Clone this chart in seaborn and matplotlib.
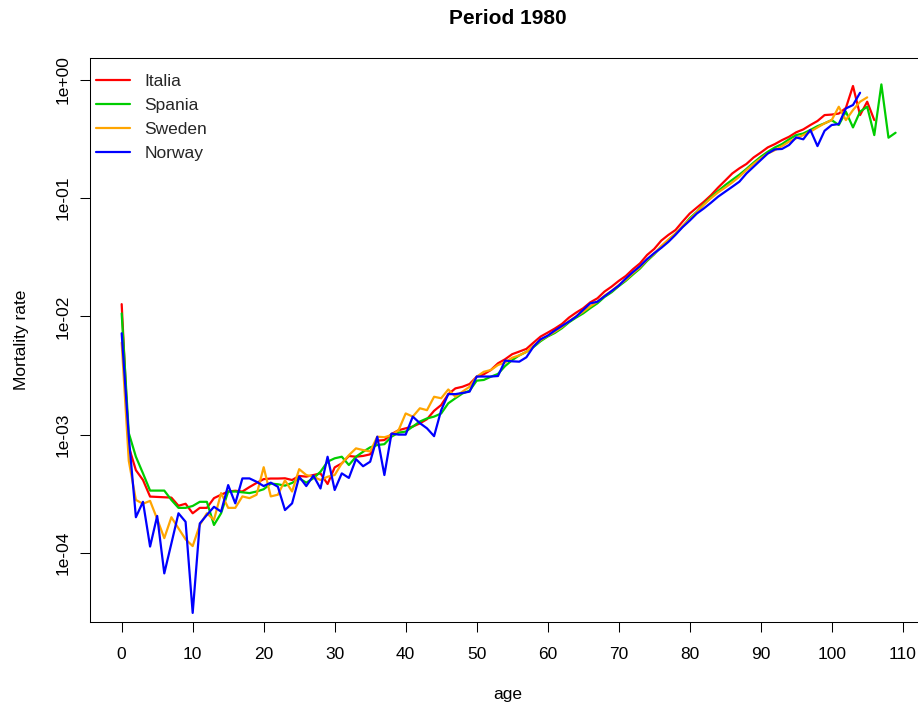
import numpy as np
import pandas as pd
import matplotlib
matplotlib.use("Agg")
import matplotlib.pyplot as plt
from matplotlib.lines import Line2D
from matplotlib.ticker import NullLocator
import seaborn as sns

# Period mortality rates by single year of age, 1980
countries = ["Italia", "Spania", "Sweden", "Norway"]
colors = ["#FF0000", "#00CD00", "#FFA500", "#0000FF"]

italia = [
    0.0127, 7.9e-4, 5.0e-4, 4.13e-4, 2.99e-4, 2.97e-4, 2.95e-4, 2.93e-4, 2.5e-4, 2.6e-4,
    2.16e-4, 2.4e-4, 2.4e-4, 2.9e-4, 3.1e-4, 3.3e-4, 3.35e-4, 3.3e-4, 3.6e-4, 3.9e-4,
    4.2e-4, 4.25e-4, 4.25e-4, 4.27e-4, 4.13e-4, 4.47e-4, 4.41e-4, 4.55e-4, 4.70e-4, 3.82e-4,
    5.28e-4, 5.71e-4, 6.59e-4, 6.50e-4, 6.6e-4, 6.81e-4, 8.89e-4, 8.99e-4, 1.01e-3, 1.09e-3,
    1.13e-3, 1.17e-3, 1.245e-3, 1.35e-3, 1.59e-3, 1.78e-3, 2.20e-3, 2.46e-3, 2.54e-3, 2.68e-3,
    3.09e-3, 3.24e-3, 3.52e-3, 4.01e-3, 4.34e-3, 4.79e-3, 5.04e-3, 5.31e-3, 6.0e-3, 6.75e-3,
    7.29e-3, 7.89e-3, 8.63e-3, 9.77e-3, 1.076e-2, 1.172e-2, 1.315e-2, 1.422e-2, 1.622e-2, 1.786e-2,
    1.995e-2, 2.198e-2, 2.506e-2, 2.81e-2, 3.31e-2, 3.72e-2, 4.38e-2, 4.89e-2, 5.38e-2, 6.34e-2,
    7.41e-2, 8.32e-2, 9.33e-2, 0.106, 0.123, 0.141, 0.162, 0.179, 0.195, 0.221,
    0.243, 0.269, 0.287, 0.310, 0.331, 0.361, 0.382, 0.416, 0.450, 0.505,
    0.51, 0.52, 0.58, 0.89, 0.505, 0.655, 0.458,
]

spania = [
    0.0106, 1.03e-3, 6.5e-4, 4.7e-4, 3.36e-4, 3.36e-4, 3.36e-4, 2.8e-4, 2.4e-4, 2.4e-4,
    2.49e-4, 2.7e-4, 2.7e-4, 1.72e-4, 2.16e-4, 3.3e-4, 3.3e-4, 3.25e-4, 3.2e-4, 3.3e-4,
    3.45e-4, 3.85e-4, 3.8e-4, 3.7e-4, 3.9e-4, 4.27e-4, 3.92e-4, 4.27e-4, 4.85e-4, 5.9e-4,
    6.3e-4, 6.5e-4, 5.53e-4, 6.5e-4, 7.16e-4, 7.8e-4, 8.16e-4, 8.3e-4, 9.6e-4, 1.04e-3,
    1.06e-3, 1.17e-3, 1.29e-3, 1.37e-3, 1.42e-3, 1.51e-3, 1.84e-3, 2.03e-3, 2.23e-3, 2.35e-3,
    2.86e-3, 2.9e-3, 3.09e-3, 3.26e-3, 3.80e-3, 4.27e-3, 4.68e-3, 5.01e-3, 5.50e-3, 6.17e-3,
    6.76e-3, 7.24e-3, 7.94e-3, 8.91e-3, 9.77e-3, 1.06e-2, 1.175e-2, 1.29e-2, 1.46e-2, 1.60e-2,
    1.80e-2, 2.0e-2, 2.26e-2, 2.54e-2, 2.95e-2, 3.35e-2, 3.89e-2, 4.42e-2, 5.01e-2, 5.75e-2,
    6.76e-2, 7.67e-2, 8.91e-2, 0.102, 0.115, 0.129, 0.143, 0.158, 0.177, 0.200,
    0.224, 0.247, 0.269, 0.287, 0.315, 0.342, 0.353, 0.378, 0.407, 0.430,
    0.458, 0.416, 0.540, 0.397, 0.54, 0.594, 0.342, 0.918, 0.325, 0.358,
]

sweden = [
    0.0060, 6.0e-4, 2.8e-4, 2.6e-4, 2.75e-4, 1.93e-4, 1.33e-4, 2.0e-4, 1.61e-4, 1.3e-4,
    1.14e-4, 1.72e-4, 2.16e-4, 1.9e-4, 3.2e-4, 2.4e-4, 2.4e-4, 3.0e-4, 2.9e-4, 3.1e-4,
    5.3e-4, 3.0e-4, 3.1e-4, 4.1e-4, 3.3e-4, 5.1e-4, 4.55e-4, 4.4e-4, 4.13e-4, 4.4e-4,
    4.55e-4, 5.71e-4, 6.7e-4, 7.65e-4, 7.4e-4, 7.2e-4, 9.6e-4, 9.5e-4, 9.9e-4, 1.09e-3,
    1.51e-3, 1.42e-3, 1.67e-3, 1.61e-3, 2.09e-3, 2.03e-3, 2.41e-3, 2.09e-3, 2.31e-3, 2.54e-3,
    3.09e-3, 3.40e-3, 3.52e-3, 3.88e-3, 4.07e-3, 4.47e-3, 4.68e-3, 5.01e-3, 5.62e-3, 6.31e-3,
    6.84e-3, 7.41e-3, 8.13e-3, 9.12e-3, 1.0e-2, 1.096e-2, 1.216e-2, 1.334e-2, 1.496e-2, 1.64e-2,
    1.84e-2, 2.04e-2, 2.32e-2, 2.60e-2, 3.02e-2, 3.39e-2, 3.94e-2, 4.47e-2, 5.01e-2, 5.82e-2,
    6.61e-2, 7.59e-2, 8.81e-2, 0.100, 0.112, 0.123, 0.136, 0.152, 0.173, 0.195,
    0.217, 0.239, 0.255, 0.276, 0.301, 0.321, 0.342, 0.366, 0.397, 0.430,
    0.458, 0.594, 0.458, 0.557, 0.655, 0.713,
]

norway = [
    0.0072, 9.6e-4, 2.0e-4, 2.7e-4, 1.13e-4, 2.05e-4, 6.7e-5, 1.2e-4, 2.16e-4, 1.83e-4,
    3.1e-5, 1.77e-4, 2.09e-4, 2.45e-4, 2.23e-4, 3.74e-4, 2.62e-4, 4.26e-4, 4.26e-4, 3.99e-4,
    3.67e-4, 3.92e-4, 3.62e-4, 2.30e-4, 2.62e-4, 4.4e-4, 3.67e-4, 4.5e-4, 3.5e-4, 6.5e-4,
    3.4e-4, 4.7e-4, 4.3e-4, 6.2e-4, 5.4e-4, 5.9e-4, 9.6e-4, 4.55e-4, 1.02e-3, 1.0e-3,
    1.0e-3, 1.42e-3, 1.25e-3, 1.13e-3, 9.7e-4, 1.61e-3, 2.2e-3, 2.2e-3, 2.25e-3, 2.31e-3,
    3.1e-3, 3.1e-3, 3.1e-3, 3.13e-3, 4.23e-3, 4.17e-3, 4.14e-3, 4.51e-3, 5.55e-3, 6.40e-3,
    6.87e-3, 7.59e-3, 8.30e-3, 9.04e-3, 9.95e-3, 1.135e-2, 1.29e-2, 1.33e-2, 1.48e-2, 1.64e-2,
    1.82e-2, 2.09e-2, 2.37e-2, 2.66e-2, 3.05e-2, 3.43e-2, 3.80e-2, 4.27e-2, 4.90e-2, 5.69e-2,
    6.46e-2, 7.41e-2, 8.20e-2, 9.16e-2, 0.103, 0.1135, 0.125, 0.138, 0.162, 0.1845,
    0.210, 0.239, 0.259, 0.261, 0.282, 0.327, 0.315, 0.378, 0.276, 0.372,
    0.416, 0.424, 0.575, 0.614, 0.780,
]

x_ticks = list(range(0, 111, 10))
y_ticks = [1e-4, 1e-3, 1e-2, 1e-1, 1e0]
y_tick_labels = ["1e-04", "1e-03", "1e-02", "1e-01", "1e+00"]

series = [italia, spania, sweden, norway]
df = pd.concat(
    [pd.DataFrame({"age": np.arange(len(v)), "rate": v, "country": c})
     for c, v in zip(countries, series)],
    ignore_index=True,
)

sns.set_theme(style="ticks")
plt.rcParams["font.family"] = ["Liberation Sans", "DejaVu Sans"]

W, H = 918, 706
fig = plt.figure(figsize=(W / 100, H / 100), dpi=100)
# plot box in pixel units: left 90.3, top 57.7, bottom 622, 7.1 px per year of age
ax_left, ax_top, ax_bottom, px_per_year = 90.3, 57.7, 622.0, 7.1
ax_width = 117.72 * px_per_year
ax = fig.add_axes([ax_left / W, 1 - ax_bottom / H, ax_width / W, (ax_bottom - ax_top) / H])

sns.lineplot(
    data=df, x="age", y="rate", hue="country", hue_order=countries,
    palette=colors, estimator=None, sort=False, linewidth=1.6,
    legend=False, ax=ax,
)

ax.set_yscale("log")
ax.set_xlim(-4.42, 113.3)
ax.set_ylim(10 ** -4.5854, 10 ** 0.1887)

ax.set_xticks(x_ticks)
ax.set_xticklabels([str(t) for t in x_ticks])
ax.set_yticks(y_ticks)
ax.set_yticklabels(y_tick_labels, rotation=90, va="center")
ax.yaxis.set_minor_locator(NullLocator())
ax.xaxis.set_minor_locator(NullLocator())

ax.tick_params(axis="both", direction="out", length=7.2, width=0.75,
               colors="black", labelsize=12.5)
ax.tick_params(axis="x", pad=10.8)
ax.tick_params(axis="y", pad=7.3)

for sp in ax.spines.values():
    sp.set_visible(True)
    sp.set_color("black")
    sp.set_linewidth(0.75)

ax.set_title("Period 1980", fontsize=15, fontweight="bold", pad=24, color="black")
ax.set_xlabel("age", fontsize=12.5, color="black")
ax.set_ylabel("Mortality rate", fontsize=12.5, color="black")
ax.xaxis.set_label_coords(0.5, -(695 - ax_bottom) / (ax_bottom - ax_top))
ax.xaxis.label.set_va("center")
ax.yaxis.set_label_coords((22 - ax_left) / ax_width, 0.5)
ax.yaxis.label.set_va("center")

handles = [Line2D([0], [0], color=c, lw=1.6) for c in colors]
ax.legend(
    handles, countries, loc="upper left", bbox_to_anchor=(0.0064, 0.971),
    frameon=False, borderpad=0, borderaxespad=0, handlelength=1.95,
    handletextpad=0.85, labelspacing=0.5, fontsize=12.5,
)

ax.grid(False)
fig.savefig("out.png", dpi=100)
